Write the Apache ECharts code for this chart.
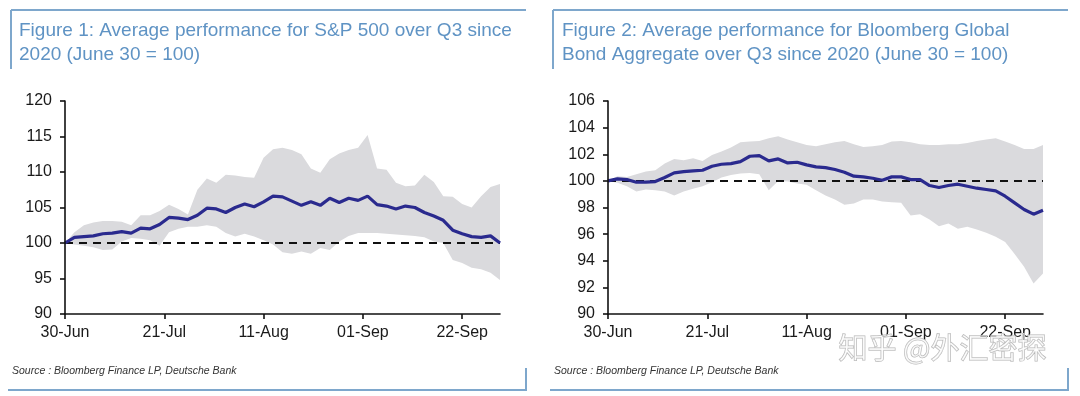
<!DOCTYPE html>
<html>
<head>
<meta charset="utf-8">
<title>Q3 average performance</title>
<script src="https://cdn.jsdelivr.net/npm/echarts@6/dist/echarts.min.js"></script>
<style>
  html, body { margin: 0; padding: 0; background: #fff; }
  #chart { width: 1080px; height: 396px; }
</style>
</head>
<body>
<div id="chart"></div>
<script>
// 横轴：距 6 月 30 日的天数
const days = [0, 2, 4, 6, 8, 10, 12, 14, 16, 18, 20, 22, 24, 26, 28, 30, 32, 34, 36, 38, 40, 42, 44, 46,
  48, 50, 52, 54, 56, 58, 60, 62, 64, 66, 68, 70, 72, 74, 76, 78, 80, 82, 84, 86, 88, 90, 92];
const xTickDays = [0, 21, 42, 63, 84];
const xTickLabels = ['30-Jun', '21-Jul', '11-Aug', '01-Sep', '22-Sep'];

// Figure 1: S&P 500
const spMean = [100.0, 100.8, 100.9, 101.0, 101.3, 101.4, 101.6, 101.4, 102.1, 102.0, 102.6, 103.6, 103.5, 103.3,
  103.9, 104.9, 104.8, 104.3, 105.0, 105.5, 105.1, 105.8, 106.6, 106.5, 105.9, 105.3, 105.8, 105.3, 106.3, 105.7,
  106.3, 106.0, 106.6, 105.4, 105.2, 104.8, 105.2, 105.0, 104.3, 103.8, 103.2, 101.8, 101.3, 100.9, 100.8, 101.0, 100.0];
const spHigh = [100.0, 101.5, 102.5, 102.9, 103.1, 103.1, 103.0, 102.5, 103.9, 103.9, 104.5, 105.4, 104.8, 104.0,
  107.5, 109.1, 108.5, 109.6, 109.5, 109.3, 109.2, 112.0, 113.2, 113.4, 113.1, 112.5, 110.5, 109.9, 111.8, 112.6,
  113.1, 113.4, 115.2, 110.5, 110.3, 108.5, 108.0, 108.1, 109.6, 108.6, 106.6, 106.5, 105.5, 105.0, 106.6, 107.9, 108.3];
const spLow = [100.0, 99.8, 99.6, 99.4, 99.0, 99.1, 100.2, 100.7, 100.6, 100.4, 99.6, 101.5, 102.0, 102.3,
  102.3, 102.5, 102.3, 101.4, 100.9, 101.3, 100.9, 100.4, 99.8, 98.7, 98.5, 98.8, 98.5, 99.3, 99.0, 100.2,
  101.0, 101.4, 101.4, 101.4, 101.3, 101.2, 101.1, 101.0, 100.8, 100.2, 100.0, 97.6, 97.2, 96.5, 96.3, 95.8, 94.8];
const spTicks = [90, 95, 100, 105, 110, 115, 120];

// Figure 2: Bloomberg Global Bond Aggregate
const bondMean = [100.0, 100.15, 100.1, 99.9, 99.9, 99.95, 100.25, 100.6, 100.7, 100.75, 100.8, 101.1, 101.25, 101.3,
  101.45, 101.85, 101.9, 101.5, 101.65, 101.35, 101.4, 101.2, 101.05, 101.0, 100.85, 100.65, 100.35, 100.3, 100.2,
  100.05, 100.3, 100.3, 100.1, 100.1, 99.65, 99.5, 99.65, 99.75, 99.6, 99.45, 99.35, 99.25, 98.85, 98.35, 97.85, 97.5, 97.8];
const bondHigh = [100.0, 100.35, 100.3, 100.5, 100.7, 100.8, 101.3, 101.65, 101.55, 101.7, 101.5, 101.95, 102.2, 102.5,
  102.9, 102.95, 103.0, 103.2, 103.35, 103.1, 102.9, 102.7, 102.6, 102.75, 102.9, 103.0, 102.75, 102.55, 102.6,
  102.7, 102.95, 103.0, 102.9, 102.75, 102.7, 102.7, 102.75, 102.75, 102.85, 103.0, 103.1, 103.2, 102.95, 102.7, 102.4, 102.4, 102.7];
const bondLow = [100.0, 99.85, 99.6, 99.2, 99.35, 99.3, 99.2, 98.9, 99.2, 99.4, 99.6, 99.9, 100.25, 100.45,
  100.55, 100.6, 100.5, 99.3, 100.0, 99.95, 99.8, 99.7, 99.3, 98.9, 98.6, 98.2, 98.3, 98.6, 98.6,
  98.45, 98.4, 98.35, 97.4, 97.5, 97.1, 96.6, 96.8, 96.4, 96.55, 96.35, 96.1, 95.8, 95.4, 94.5, 93.55, 92.3, 93.05];
const bondTicks = [90, 92, 94, 96, 98, 100, 102, 104, 106];

const titles = [
  'Figure 1: Average performance for S&P 500 over Q3 since\n2020 (June 30 = 100)',
  'Figure 2: Average performance for Bloomberg Global\nBond Aggregate over Q3 since 2020 (June 30 = 100)'
];
const sourceText = 'Source : Bloomberg Finance LP, Deutsche Bank';
const watermark = '知乎 @外汇密探';

const LINE_BLUE = '#2a2a8e';
const BAND_GREY = '#dadadd';
const FRAME_BLUE = '#7ea7cc';
const TITLE_BLUE = '#5f93c4';
const FONT = '"Liberation Sans", Arial, sans-serif';

const pair = (xs, ys) => xs.map((x, i) => [x, ys[i]]);

function makeX(gridIndex) {
  return {
    type: 'value', gridIndex: gridIndex, min: 0, max: 92, z: 10,
    axisLine: { show: true, lineStyle: { color: '#111', width: 1.6 } },
    axisTick: { show: true, length: 5, customValues: xTickDays, lineStyle: { color: '#111', width: 1.6 } },
    axisLabel: {
      customValues: xTickDays, margin: 11, color: '#1a1a1a', fontSize: 16, fontFamily: FONT,
      formatter: (v) => xTickLabels[xTickDays.indexOf(v)] || ''
    },
    splitLine: { show: false }
  };
}

function makeY(gridIndex, ticks) {
  return {
    type: 'value', gridIndex: gridIndex, z: 10,
    min: ticks[0], max: ticks[ticks.length - 1], interval: ticks[1] - ticks[0],
    axisLine: { show: true, onZero: false, lineStyle: { color: '#111', width: 1.6 } },
    axisTick: { show: true, length: 5, lineStyle: { color: '#111', width: 1.6 } },
    axisLabel: { margin: 13, color: '#1a1a1a', fontSize: 16, fontFamily: FONT },
    splitLine: { show: false }
  };
}

// 灰色区间：先画上沿填充到底，再用白色把下沿以下盖掉
function makeSeries(idx, mean, low, high) {
  return [
    {
      type: 'line', xAxisIndex: idx, yAxisIndex: idx,
      data: pair(days, high), symbol: 'none', lineStyle: { opacity: 0 },
      areaStyle: { color: BAND_GREY, opacity: 1, origin: 'start' }, silent: true, z: 1
    },
    {
      type: 'line', xAxisIndex: idx, yAxisIndex: idx,
      data: pair(days, low), symbol: 'none', lineStyle: { opacity: 0 },
      areaStyle: { color: '#fff', opacity: 1, origin: 'start' }, silent: true, z: 2
    },
    { // 平均线
      type: 'line', xAxisIndex: idx, yAxisIndex: idx,
      data: pair(days, mean), symbol: 'none', z: 5,
      lineStyle: { color: LINE_BLUE, width: 3.2 },
      markLine: {
        silent: true, symbol: 'none', label: { show: false }, z: 3,
        lineStyle: { color: '#111', type: [8, 6], width: 1.8 },
        data: [{ yAxis: 100 }]
      }
    }
  ];
}

function frame(x0, x1) {
  const line = (a, b, c, d) => ({
    type: 'line', shape: { x1: a, y1: b, x2: c, y2: d },
    style: { stroke: FRAME_BLUE, lineWidth: 2 }, silent: true
  });
  return [
    line(x0, 10, x1, 10),
    line(x0, 10, x0, 69),
    line(x0 - 3, 390, x1 + 1, 390),
    line(x1, 368, x1, 390),
    {
      type: 'text', left: x0 + 1, top: 366, silent: true,
      style: { text: sourceText, fill: '#333', font: 'italic 10.5px "Liberation Sans", Arial, sans-serif' }
    }
  ];
}

const chart = echarts.init(document.getElementById('chart'));
chart.setOption({
  animation: false,
  title: titles.map((t, i) => ({
    text: t, left: i === 0 ? 19 : 562, top: 19, padding: 0,
    textStyle: { color: TITLE_BLUE, fontSize: 19, fontWeight: 'normal', lineHeight: 24, fontFamily: FONT }
  })),
  grid: [
    { left: 65, right: 580, top: 101, bottom: 82 },
    { left: 608, right: 37, top: 101, bottom: 82 }
  ],
  xAxis: [makeX(0), makeX(1)],
  yAxis: [makeY(0, spTicks), makeY(1, bondTicks)],
  series: [
    ...makeSeries(0, spMean, spLow, spHigh),
    ...makeSeries(1, bondMean, bondLow, bondHigh)
  ],
  graphic: [
    ...frame(11, 526),
    ...frame(553, 1068),
    {
      type: 'text', left: 838, top: 333, z: 100, silent: true,
      style: {
        text: watermark, fill: 'rgba(255,255,255,0.55)', stroke: '#b4b4b4', lineWidth: 1,
        font: '29px "Noto Sans CJK SC", sans-serif'
      }
    }
  ]
});
</script>
</body>
</html>
